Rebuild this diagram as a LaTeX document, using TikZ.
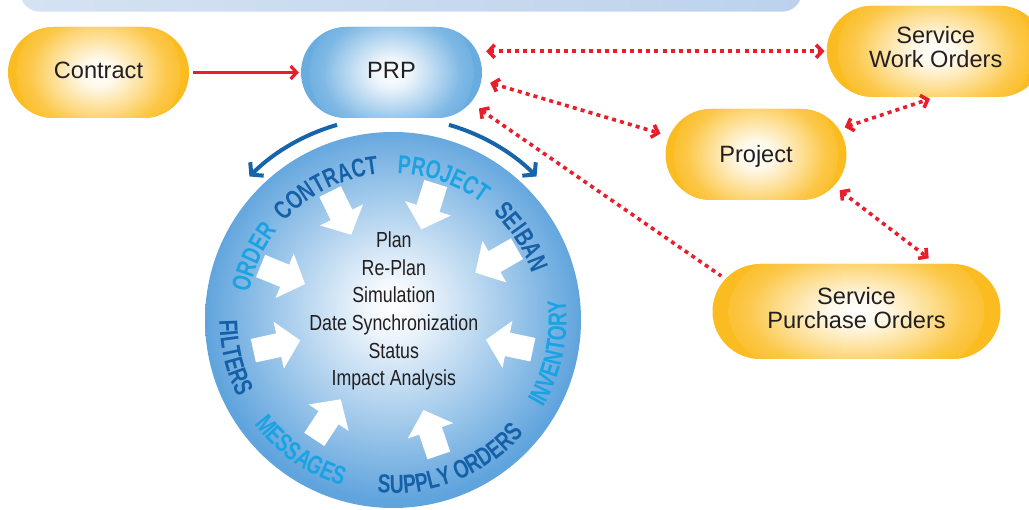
\documentclass[tikz,border=0pt]{standalone}
\usepackage{fontspec}
\setmainfont{Liberation Sans}
\newfontfamily\condfont[FakeStretch=0.815]{Liberation Sans}
\newfontfamily\lblfont[FakeStretch=0.74]{Liberation Sans}
\usetikzlibrary{arrows.meta,shapes.misc,decorations.text,calc}

\definecolor{ylw}{RGB}{251,188,34}
\definecolor{pblue}{RGB}{104,172,224}
\definecolor{cblue}{RGB}{96,164,221}
\definecolor{dblue}{RGB}{22,96,168}
\definecolor{lblue}{RGB}{26,162,226}
\definecolor{rred}{RGB}{232,30,42}
\definecolor{txt}{RGB}{35,31,32}
\definecolor{banL}{RGB}{213,226,242}
\definecolor{banR}{RGB}{188,210,236}
\definecolor{arcblue}{RGB}{22,100,170}
\colorlet{ylwA}{white!90!ylw}
\colorlet{ylwB}{white!50!ylw}
\colorlet{ylwC}{white!18!ylw}
\colorlet{pblueA}{white!88!pblue}
\colorlet{pblueB}{white!48!pblue}
\colorlet{pblueC}{white!16!pblue}
\colorlet{cblueA}{white!93!cblue}

\pgfdeclareradialshading{glowY}{\pgfpoint{0bp}{0bp}}{color(0bp)=(white); color(5bp)=(ylwA); color(13bp)=(ylwB); color(19bp)=(ylwC); color(25bp)=(ylw); color(50bp)=(ylw)}
\pgfdeclareradialshading{glowB}{\pgfpoint{0bp}{0bp}}{color(0bp)=(white); color(5bp)=(pblueA); color(13bp)=(pblueB); color(19bp)=(pblueC); color(25bp)=(pblue); color(50bp)=(pblue)}
\pgfdeclareradialshading{glowC}{\pgfpoint{0bp}{2bp}}{color(0bp)=(white); color(3bp)=(cblueA); color(25bp)=(cblue); color(50bp)=(cblue)}

\newcommand\lblsty{\lblfont\bfseries\fontsize{26pt}{26pt}\selectfont}

\begin{document}
\begin{tikzpicture}[x=1pt,y=1pt,
  pill/.style={rounded rectangle, inner sep=0pt, text=txt, font=\fontsize{23.6pt}{24pt}\selectfont, align=center},
  glow/.style n args={3}{path picture={\shade[shading=#1] (path picture bounding box.center) ellipse [x radius=#2, y radius=#3];}},
  ybox/.style={pill, fill=ylw},
  bbox/.style={pill, fill=pblue},
  rtip/.tip={Straight Barb[length=6pt,width=13pt]},
  redline/.style={draw=rred, line width=3.6pt},
  dots/.style={redline, dash pattern=on 4pt off 4.2pt},
  barc/.style={draw=arcblue, line width=4pt, -{Straight Barb[length=8pt,width=19pt]}},
  upl/.style 2 args={decorate, decoration={text along path, text align=center, text={|\lblsty\color{#2}|#1}}},
  warrow/.style={fill=white}
]
\useasboundingbox (0,0) rectangle (1029,-510);

% banner
\shade[left color=banL, right color=banR, rounded corners=20pt]
  (20,30) -- (20,-11.7) -- (802,-11.7) -- (802,30) -- cycle;

% big circle
\node[circle, inner sep=0pt, minimum size=376pt, shade, shading=glowC] (cyc) at (393,-320) {};

% white arrows
\foreach \a in {116.1,72.6,29.9,157.8,192.4,236.6,288.7,348}{
  \fill[warrow, shift={(cyc.center)}, rotate=\a]
    (143,-12) -- (117,-12) -- (117,-24) -- (95,0) -- (117,24) -- (117,12) -- (143,12) -- cycle;
}

% labels on the circle
\path[upl={CONTRACT}{dblue}] ([shift={(161.7:146.5)}]cyc.center) arc[start angle=161.7, end angle=71.7, radius=146.5];
\path[upl={PROJECT}{lblue}] ([shift={(115.5:146.5)}]cyc.center) arc[start angle=115.5, end angle=25.5, radius=146.5];
\path[upl={SEIBAN}{dblue}] ([shift={(77.8:146.5)}]cyc.center) arc[start angle=77.8, end angle=-12.2, radius=146.5];
\path[upl={ORDER}{lblue}] ([shift={(200.8:146.5)}]cyc.center) arc[start angle=200.8, end angle=110.8, radius=146.5];
\path[upl={FILTERS}{dblue}] ([shift={(148.3:173.5)}]cyc.center) arc[start angle=148.3, end angle=238.3, radius=173.5];
\path[upl={MESSAGES}{lblue}] ([shift={(189.9:173.5)}]cyc.center) arc[start angle=189.9, end angle=279.9, radius=173.5];
\path[upl={SUPPLY ORDERS}{dblue}] ([shift={(247:173.5)}]cyc.center) arc[start angle=247, end angle=337, radius=173.5];
\path[upl={INVENTORY}{lblue}] ([shift={(303.2:173.5)}]cyc.center) arc[start angle=303.2, end angle=393.2, radius=173.5];

% centre text
\node[font={\condfont\fontsize{21.8pt}{27.7pt}\selectfont}, align=center, text=txt, inner sep=0pt] (core) at (393.8,-311)
  {Plan\\Re-Plan\\Simulation\\Date Synchronization\\Status\\Impact Analysis};

% boxes
\node[ybox, glow={glowY}{82pt}{72pt}, minimum width=181pt, minimum height=91pt, text height=17pt, text depth=4pt] (contract) at (98.5,-72.5) {Contract};
\node[bbox, glow={glowB}{82pt}{72pt}, minimum width=181pt, minimum height=91pt, text height=17pt, text depth=4pt] (prp) at (391.5,-72.5) {PRP};
\node[ybox, glow={glowY}{82pt}{72pt}, minimum width=181pt, minimum height=91pt, text height=17pt, text depth=0pt] (project) at (756,-154.5) {Project};
\node[ybox, glow={glowY}{98pt}{72pt}, minimum width=218pt, minimum height=91pt, text depth=8.6pt] (swo) at (935.7,-51.3) {Service\\Work Orders};
\node[ybox, glow={glowY}{128pt}{76pt}, minimum width=288pt, minimum height=95pt, text depth=8pt] (spo) at (856.5,-311.5) {Service\\Purchase Orders};

% blue arcs from PRP to the cycle
\draw[barc] ([shift={(106:203)}]cyc.center) arc[start angle=106, end angle=135, radius=203];
\draw[barc] ([shift={(74:203)}]cyc.center) arc[start angle=74, end angle=45, radius=203];

% red connectors
\draw[redline, line width=3.2pt, -rtip, shorten <=4pt, shorten >=2pt] (contract.east) -- (prp.west);
\draw[dots, rtip-rtip, shorten <=4pt, shorten >=2pt] (swo.west -| prp.east) -- (swo.west);
\draw[dots, rtip-rtip, shorten <=9pt, shorten >=9pt] (prp.-5.5) -- (project.168.6);
\draw[dots, rtip-, shorten <=10pt, shorten >=5pt] (prp.-21) -- (spo.166);
\draw[dots, rtip-rtip, shorten <=6pt, shorten >=6pt] (project.17.3) -- (swo.south);
\draw[dots, rtip-rtip, shorten <=7pt, shorten >=9pt] (project.-22) -- (spo.31.7);
\end{tikzpicture}
\end{document}
